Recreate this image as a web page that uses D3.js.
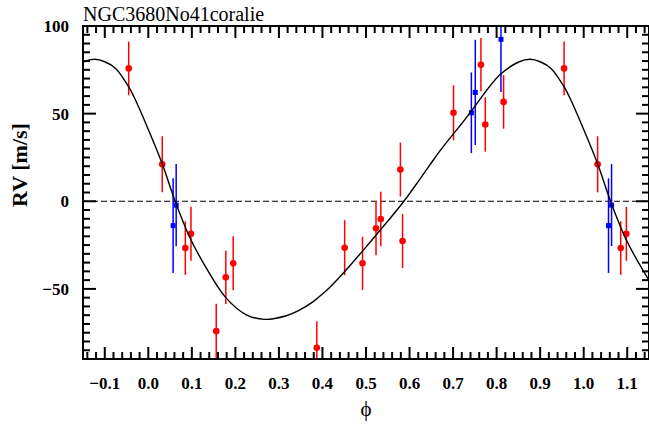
<!DOCTYPE html>
<html>
<head>
<meta charset="utf-8">
<script src="https://cdn.jsdelivr.net/npm/d3@7"></script>
<style>
    body { margin: 0; background: #fff; }
    svg { display: block; }
    .tick-label { font-family: "Liberation Serif", "Times New Roman", serif; font-weight: bold; }
</style>
</head>
<body>
<div id="chart"></div>
<script>
// Orbital phase data (phase in [0,1), radial velocity in m/s, error bar half-length)
const redPhase = [0.032, 0.085, 0.098, 0.156, 0.178, 0.195, 0.387, 0.451, 0.492, 0.523, 0.534, 0.579, 0.584, 0.701, 0.764, 0.774, 0.816, 0.955];
const redRV    = [21.1, -26.7, -18.6, -74.1, -43.4, -35.4, -83.6, -26.5, -35.4, -15.4, -10.1, 18.1, -22.7, 50.5, 77.9, 43.8, 56.7, 75.8];
const redErr   = [16.0, 15.3, 15.4, 15.6, 15.2, 15.4, 15.2, 15.7, 15.2, 15.4, 15.5, 15.4, 15.4, 15.7, 15.2, 15.5, 15.3, 15.3];

const bluePhase = [0.057, 0.064, 0.742, 0.751, 0.810];
const blueRV    = [-13.9, -2.2, 50.5, 62.1, 92.4];
const blueErr   = [27.0, 23.4, 23.0, 30.0, 30.0];

// Fitted orbit
const curvePhase = [0.000, 0.032, 0.061, 0.095, 0.133, 0.178, 0.225, 0.267, 0.317, 0.345, 0.378, 0.400, 0.420, 0.445, 0.490, 0.531, 0.588, 0.623, 0.646, 0.669, 0.722, 0.742, 0.807, 0.852, 0.877, 0.900, 0.925, 0.957, 0.967];
const curveRV    = [41.0, 21.4, 0.4, -20.5, -38.0, -55.0, -64.8, -67.4, -65.3, -62.4, -57.4, -52.9, -48.3, -41.8, -29.0, -17.0, 0.3, 12.4, 20.5, 28.5, 45.0, 51.5, 72.0, 79.6, 81.0, 79.6, 75.8, 64.4, 59.6];

// Axis ticks
const xTickLabels = [-0.1, 0.0, 0.1, 0.2, 0.3, 0.4, 0.5, 0.6, 0.7, 0.8, 0.9, 1.0, 1.1];
const yTickLabels = [-50, 0, 50, 100];

const title = "NGC3680No41coralie";

function createChart() {
    const width = 649;
    const height = 424;
    const margin = { top: 26, right: 0, bottom: 65, left: 83 };

    const x = d3.scaleLinear().domain([-0.15, 1.15]).range([margin.left, width - margin.right]);
    const y = d3.scaleLinear().domain([-90, 100]).range([height - margin.bottom, margin.top]);

    const svg = d3.select("#chart").append("svg")
        .attr("width", width)
        .attr("height", height);

    svg.append("clipPath").attr("id", "plot-clip")
        .append("rect")
        .attr("x", x(-0.15)).attr("y", y(100))
        .attr("width", x(1.15) - x(-0.15)).attr("height", y(-90) - y(100));

    // repeat each point one period before and after, keep what falls in the window
    function wrap(phases, values, errs, lo, hi) {
        const out = [];
        [-1, 0, 1].forEach(k => {
            phases.forEach((p, i) => {
                const ph = p + k;
                if (ph >= lo && ph <= hi) out.push({ p: ph, v: values[i], e: errs ? errs[i] : 0 });
            });
        });
        return out.sort((a, b) => a.p - b.p);
    }

    const redData = wrap(redPhase, redRV, redErr, -0.15, 1.15);
    const blueData = wrap(bluePhase, blueRV, blueErr, -0.15, 1.15);
    const curveData = wrap(curvePhase, curveRV, null, -0.3, 1.3);

    const plot = svg.append("g").attr("clip-path", "url(#plot-clip)");

    // zero line
    plot.append("line")
        .attr("x1", x(-0.15)).attr("x2", x(1.15))
        .attr("y1", y(0)).attr("y2", y(0))
        .attr("stroke", "#000")
        .attr("stroke-width", 1)
        .attr("stroke-dasharray", "6,3");

    // error bars
    plot.selectAll(".err-red")
        .data(redData)
        .enter().append("line")
        .attr("class", "err-red")
        .attr("x1", d => x(d.p)).attr("x2", d => x(d.p))
        .attr("y1", d => y(d.v - d.e)).attr("y2", d => y(d.v + d.e))
        .attr("stroke", "#ff0000")
        .attr("stroke-width", 1.5);

    plot.selectAll(".err-blue")
        .data(blueData)
        .enter().append("line")
        .attr("class", "err-blue")
        .attr("x1", d => x(d.p)).attr("x2", d => x(d.p))
        .attr("y1", d => y(d.v - d.e)).attr("y2", d => y(d.v + d.e))
        .attr("stroke", "#0000ff")
        .attr("stroke-width", 1.5);

    // markers
    plot.selectAll(".pt-red")
        .data(redData)
        .enter().append("circle")
        .attr("class", "pt-red")
        .attr("cx", d => x(d.p))
        .attr("cy", d => y(d.v))
        .attr("r", 3.3)
        .attr("fill", "#ff0000");

    const sq = 5;
    plot.selectAll(".pt-blue")
        .data(blueData)
        .enter().append("rect")
        .attr("class", "pt-blue")
        .attr("x", d => x(d.p) - sq / 2)
        .attr("y", d => y(d.v) - sq / 2)
        .attr("width", sq).attr("height", sq)
        .attr("fill", "#0000ff");

    // orbit curve
    const line = d3.line()
        .x(d => x(d.p))
        .y(d => y(d.v))
        .curve(d3.curveCatmullRom.alpha(0.5));

    plot.append("path")
        .datum(curveData)
        .attr("d", line)
        .attr("fill", "none")
        .attr("stroke", "#000")
        .attr("stroke-width", 1.4);

    // ticks on all four sides, pointing inward
    const axes = svg.append("g").attr("stroke", "#000").attr("stroke-width", 2);
    const x0 = x(-0.15), x1 = x(1.15), y0 = y(-90), y1 = y(100);

    d3.range(-7, 58).forEach(i => {
        const xv = x(i * 0.02);
        const len = (i % 5 === 0) ? 12 : 7;
        axes.append("line").attr("x1", xv).attr("x2", xv).attr("y1", y0).attr("y2", y0 - len);
        axes.append("line").attr("x1", xv).attr("x2", xv).attr("y1", y1).attr("y2", y1 + len);
    });
    d3.range(-17, 20).forEach(i => {
        const yv = y(i * 5);
        const len = (i % 10 === 0) ? 13 : 7;
        axes.append("line").attr("x1", x0).attr("x2", x0 + len).attr("y1", yv).attr("y2", yv);
        axes.append("line").attr("x1", x1).attr("x2", x1 - len).attr("y1", yv).attr("y2", yv);
    });

    // frame
    svg.append("rect")
        .attr("x", x0).attr("y", y1)
        .attr("width", x1 - x0).attr("height", y0 - y1)
        .attr("fill", "none")
        .attr("stroke", "#000")
        .attr("stroke-width", 2);

    // tick labels
    const fmt = d3.format(".1f");
    svg.selectAll(".xlab")
        .data(xTickLabels)
        .enter().append("text")
        .attr("class", "tick-label")
        .attr("x", d => x(d))
        .attr("y", 389)
        .attr("text-anchor", "middle")
        .attr("font-size", 17)
        .text(d => fmt(d));

    svg.selectAll(".ylab")
        .data(yTickLabels)
        .enter().append("text")
        .attr("class", "tick-label")
        .attr("x", 69)
        .attr("y", d => y(d))
        .attr("dy", "0.35em")
        .attr("text-anchor", "end")
        .attr("font-size", 17)
        .text(d => d3.format("d")(d));

    // titles
    svg.append("text")
        .attr("x", x0)
        .attr("y", 20.5)
        .attr("font-family", "Liberation Serif, serif")
        .attr("font-size", 20)
        .text(title);

    svg.append("text")
        .attr("transform", "translate(27, 165) rotate(-90)")
        .attr("text-anchor", "middle")
        .attr("font-family", "Liberation Serif, serif")
        .attr("font-weight", "bold")
        .attr("font-size", 22)
        .text("RV [m/s]");

    svg.append("text")
        .attr("x", (x0 + x1) / 2)
        .attr("y", 416)
        .attr("text-anchor", "middle")
        .attr("font-family", "Liberation Serif, serif")
        .attr("font-size", 21)
        .text("ϕ");
}

createChart();
</script>
</body>
</html>
